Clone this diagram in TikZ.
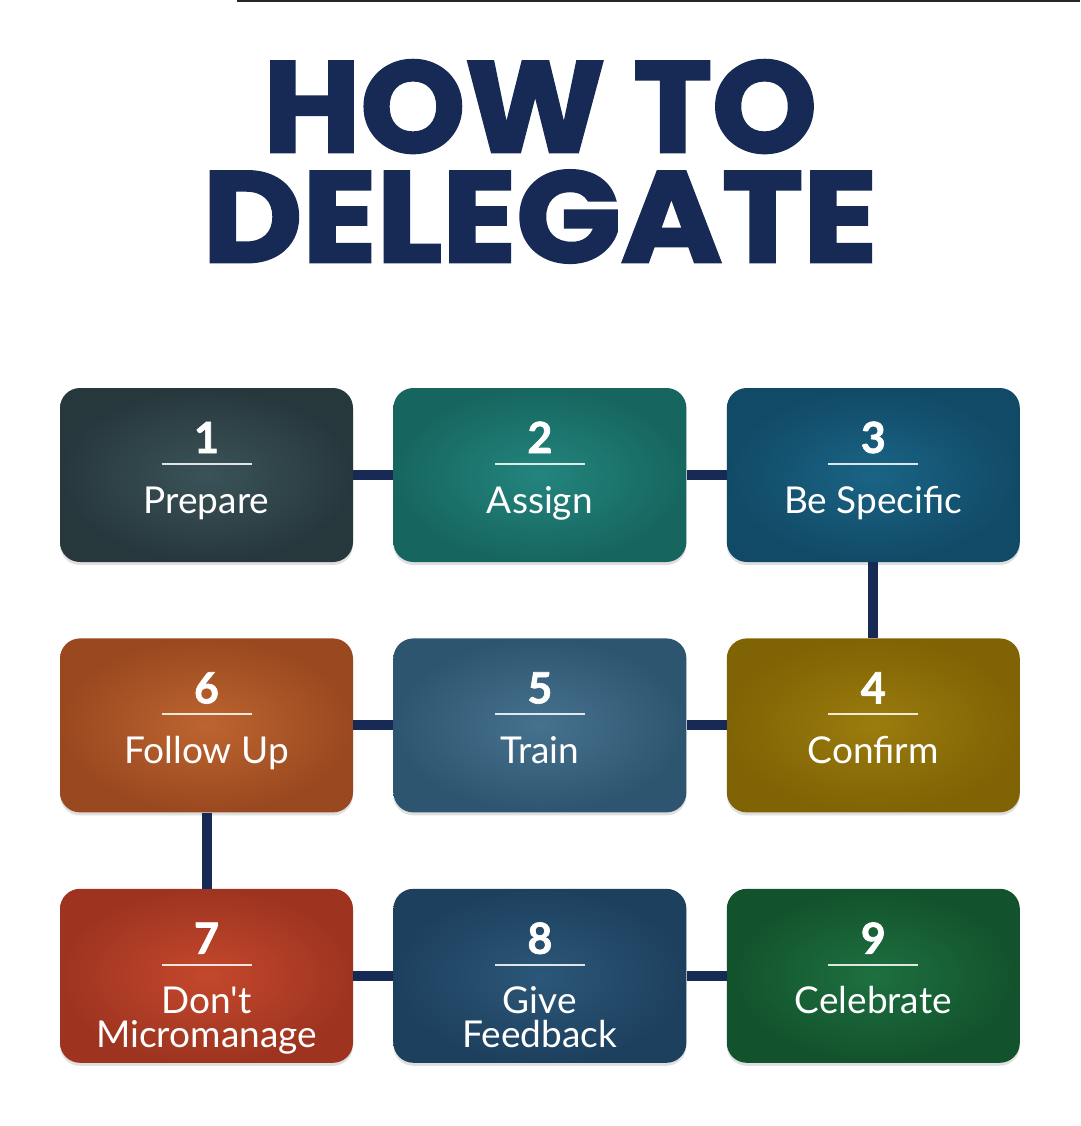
\documentclass[tikz,border=0pt]{standalone}
\usepackage{fontspec}
\usepackage{tikz}
\usetikzlibrary{positioning,shapes,shadows}
\newfontfamily\titlefont{Poppins}[BoldFeatures={FakeBold=2.2}]
\newfontfamily\labfont{Lato}
\newfontfamily\numfont{Lato}[BoldFeatures={FakeBold=1.6}]

\definecolor{navy}{HTML}{172A55}
\definecolor{cardAin}{HTML}{3A5358}\definecolor{cardAout}{HTML}{27383D}
\definecolor{cardBin}{HTML}{23857E}\definecolor{cardBout}{HTML}{16665F}
\definecolor{cardCin}{HTML}{1A6485}\definecolor{cardCout}{HTML}{114A66}
\definecolor{cardDin}{HTML}{9A7C0E}\definecolor{cardDout}{HTML}{806304}
\definecolor{cardEin}{HTML}{46728E}\definecolor{cardEout}{HTML}{2E5570}
\definecolor{cardFin}{HTML}{BD6530}\definecolor{cardFout}{HTML}{9A4820}
\definecolor{cardGin}{HTML}{C4482C}\definecolor{cardGout}{HTML}{9E3420}
\definecolor{cardHin}{HTML}{2C5778}\definecolor{cardHout}{HTML}{1D405E}
\definecolor{cardIin}{HTML}{1E7040}\definecolor{cardIout}{HTML}{12522C}

\tikzset{
  card/.style={
    rectangle,
    rounded corners=20pt,
    minimum width=293pt,
    minimum height=174pt,
    inner sep=0pt,
    shading=radial,
    inner color=card#1in,
    outer color=card#1out,
    drop shadow={shadow xshift=0pt, shadow yshift=-3pt, opacity=0.25},
  },
  link/.style={draw=navy, line width=10pt},
  numtext/.style={text=white, font=\numfont\bfseries\fontsize{43}{43}\selectfont},
  labtext/.style={text=white, align=center, font=\labfont\fontsize{37}{34}\selectfont},
  rulewhite/.style={draw=white, opacity=0.85, line width=2pt},
  headline/.style={text=navy, anchor=base, inner sep=0pt,
    font=\titlefont\bfseries\fontsize{129}{129}\selectfont},
}

% #1 = baseline of the last label line below the centre
\newcommand{\cardtext}[4][38]{%
\node[numtext, anchor=base] (#2num) at ([yshift=22pt] #2.center) {#3};%
\draw[rulewhite] ([xshift=-45pt,yshift=11pt] #2.center) -- ([xshift=45pt,yshift=11pt] #2.center);%
\node[labtext, anchor=base] (#2lab) at ([yshift=-#1pt] #2.center) {#4};%
}

\begin{document}
\begin{tikzpicture}[x=1pt,y=-1pt]
\useasboundingbox[fill=white] (0,0) rectangle (1080,1126);

% top rule
\draw[line width=2pt, draw=black!85] (237,1) -- (1080,1);

% Title
\node[headline, xscale=1.032] (howto) at (540,152) {HOW TO};
\node[headline, xscale=1.064] (delegate) at (540,262) {DELEGATE};

% Row 1
\node [card=A] (prepare) at (206.5,475) {};
\node [card=B,
	right = 40pt of prepare
]  (assign) {};
\node [card=C,
	right = 40pt of assign
]  (specific) {};

% Row 2
\node [card=D,
	below = 76pt of specific
]  (confirm) {};
\node [card=E,
	left = 40pt of confirm
]  (train) {};
\node [card=F,
	left = 40pt of train
]  (follow) {};

% Row 3
\node [card=G,
	below = 76pt of follow
]  (micro) {};
\node [card=H,
	right = 40pt of micro
]  (feedback) {};
\node [card=I,
	right = 40pt of feedback
]  (celebrate) {};

% Connectors
\draw[link] (prepare.east) -- (assign.west);
\draw[link] (assign.east) -- (specific.west);
\draw[link] (specific.south) -- (confirm.north);
\draw[link] (confirm.west) -- (train.east);
\draw[link] (train.west) -- (follow.east);
\draw[link] (follow.south) -- (micro.north);
\draw[link] (micro.east) -- (feedback.west);
\draw[link] (feedback.east) -- (celebrate.west);

% Texts
\cardtext{prepare}{1}{Prepare}
\cardtext{assign}{2}{Assign}
\cardtext{specific}{3}{Be Specific}
\cardtext{confirm}{4}{Confirm}
\cardtext{train}{5}{Train}
\cardtext{follow}{6}{Follow Up}
\cardtext[72]{micro}{7}{Don't\\Micromanage}
\cardtext[72]{feedback}{8}{Give\\Feedback}
\cardtext{celebrate}{9}{Celebrate}

\end{tikzpicture}
\end{document}
